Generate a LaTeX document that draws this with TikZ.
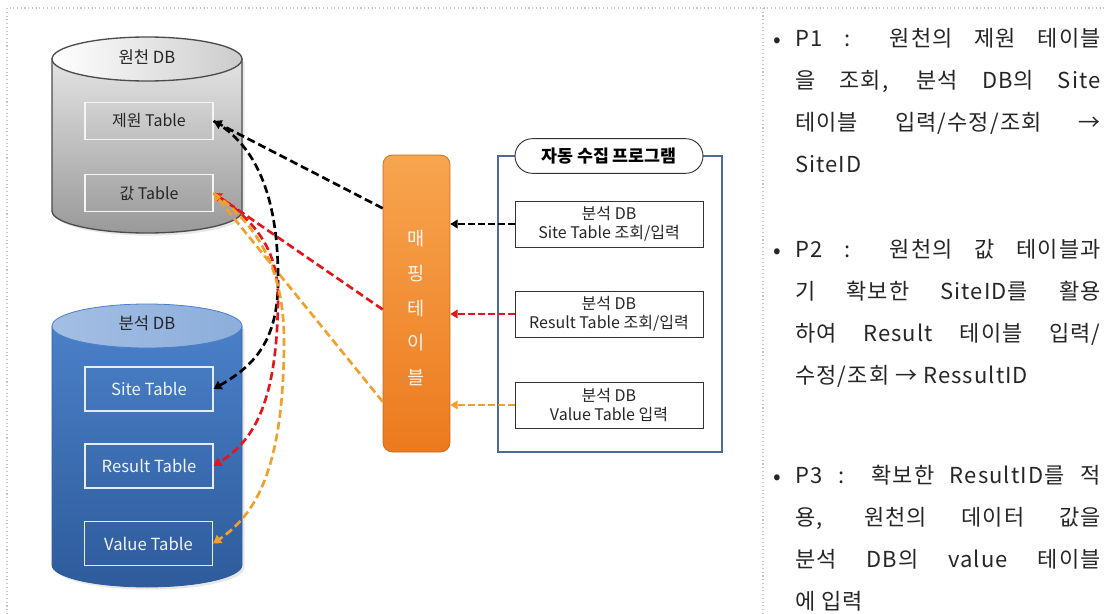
\documentclass[tikz,border=0pt]{standalone}
\usepackage{fontspec}
\setmainfont{Noto Sans CJK KR}
\newfontfamily\notefont{Noto Sans CJK KR}[LetterSpace=5]
\usetikzlibrary{arrows.meta,calc,shadows}
\definecolor{arrred}{HTML}{E3161B}
\definecolor{arrorange}{HTML}{F2A02A}
\definecolor{barlight}{HTML}{F7A54F}
\definecolor{bardark}{HTML}{EC7A1E}
\definecolor{frameblue}{HTML}{4D6B94}
\definecolor{dbtop}{HTML}{4A80C8}
\definecolor{dbbot}{HTML}{2E5B9C}
\definecolor{dblid}{HTML}{93B3DE}
\newcommand{\jline}[1]{\makebox[229pt][s]{#1}}

\begin{document}
\begin{tikzpicture}[x=0.75pt,y=-0.75pt,
  srctbl/.style={draw=white!92!gray,line width=0.8pt,minimum width=96pt,minimum height=27.5pt,
    text=black!85,font=\fontsize{12}{14}\selectfont},
  anatbl/.style={draw=white!85!dbtop,line width=0.8pt,minimum width=96pt,minimum height=33pt,
    text=white!92!dbtop,font=\fontsize{12.5}{14}\selectfont},
  progitem/.style={draw=black!80,line width=0.7pt,fill=white,minimum width=141pt,minimum height=34.5pt,
    align=center,font=\fontsize{12}{14}\selectfont,text=black!85},
  flow/.style={line width=2pt,dash pattern=on 6pt off 3pt,-{Triangle[length=6pt,width=7pt]}},
  feed/.style={line width=1.7pt,dash pattern=on 5pt off 2.5pt,-{Triangle[length=5.5pt,width=6.5pt]}},
  note/.style={anchor=base west,inner sep=0pt,font=\notefont\fontsize{16.5}{20}\selectfont,text=black!85},
  dot/.style={inner sep=0pt,font=\fontsize{17}{18}\selectfont,text=black!85}]
  \useasboundingbox (0,0) rectangle (1104,614);
  \draw[gray!45,dotted,line width=0.8pt] (7,614) -- (7,8) -- (1104,8);
  \draw[gray!45,dotted,line width=0.8pt] (763,8) -- (763,614);

  % source DB
  \shadedraw[draw=black!70,line width=1pt,top color=gray!22,bottom color=gray!80,
    drop shadow={opacity=.18,shadow xshift=2pt,shadow yshift=-2pt}]
    (52,59) -- (52,211) arc[start angle=180,end angle=0,x radius=95,y radius=22] -- (242,59) -- cycle;
  \shadedraw[draw=black!70,line width=1pt,left color=white,right color=gray!40]
    (147,59) ellipse[x radius=95,y radius=22];
  \node[text=black!85,font=\fontsize{12.5}{14}\selectfont] (srclbl) at (147,57) {원천 DB};
  \node[srctbl] (zewon) at (149,121) {제원 Table};
  \node[srctbl] (gap) at (149,193) {값 Table};

  % analysis DB
  \shadedraw[draw=dbbot,line width=0.6pt,top color=dbtop,bottom color=dbbot,
    drop shadow={opacity=.18,shadow xshift=2pt,shadow yshift=-2pt}]
    (52,326) -- (52,565) arc[start angle=180,end angle=0,x radius=95,y radius=22] -- (242,326) -- cycle;
  \shadedraw[draw=dbtop,line width=0.6pt,left color=dblid!85!white,right color=dblid!90!dbtop]
    (147,326) ellipse[x radius=95,y radius=22];
  \node[text=black!85,font=\fontsize{12.5}{14}\selectfont] (analbl) at (147,323) {분석 DB};
  \node[anatbl] (site) at (149,389) {Site Table};
  \node[anatbl] (result) at (149,466) {Result Table};
  \node[anatbl] (value) at (148.5,543.5) {Value Table};

  % mapping table
  \node[draw=bardark!85!black,line width=0.5pt,rounded corners=7pt,top color=barlight,bottom color=bardark,
    minimum width=50.25pt,minimum height=222.75pt] (map) at (416.5,303.5) {};
  \node[align=center,text=white!92!orange,font=\fontsize{14}{26}\selectfont] (maplbl) at (416.5,308)
    {매\\핑\\테\\이\\블};

  % program
  \node[draw=frameblue,line width=1.9pt,minimum width=168pt,minimum height=222pt] (prog) at (610,304) {};
  \node[draw=black!80,line width=0.7pt,fill=white,rounded corners=13pt,minimum width=141pt,
    minimum height=26pt,font=\bfseries\fontsize{13}{15}\selectfont] (progtitle) at (609,156) {자동 수집 프로그램};
  \node[progitem] (pSite) at (609,224) {분석 DB\\Site Table 조회/입력};
  \node[progitem] (pResult) at (609,314) {분석 DB\\Result Table 조회/입력};
  \node[progitem] (pValue) at (609,405) {분석 DB\\Value Table 입력};

  \draw[feed] (pSite.west) -- (map.east |- pSite.west);
  \draw[feed,arrred] (pResult.west) -- (map.east |- pResult.west);
  \draw[feed,arrorange] (pValue.west) -- (map.east |- pValue.west);

  \draw[flow] ($(map.north west)!.18!(map.south west)$) -- (zewon.east);
  \draw[flow,arrred] ($(map.north west)!.52!(map.south west)$) -- (gap.east);
  \draw[flow,arrorange] ($(map.north west)!.83!(map.south west)$) -- (gap.east);

  \draw[flow] (zewon.east) .. controls (265,150) and (279,215) .. (278,285)
    .. controls (277,345) and (250,368) .. (site.east);
  \draw[flow,arrred] (gap.east) .. controls (255,220) and (279,250) .. (278,300)
    .. controls (277,400) and (255,440) .. (result.east);
  \draw[flow,arrorange] (gap.east) .. controls (262,228) and (284,275) .. (284,340)
    .. controls (284,470) and (255,515) .. (value.east);

  % notes
  \node[dot] (b1) at (777,43) {•};
  \node[note] (p1a) at (795,46) {\jline{P1 : 원천의 제원 테이블}};
  \node[note] (p1b) at (795,88) {\jline{을 조회, 분석 DB의 Site}};
  \node[note] (p1c) at (795,130) {\jline{테이블 입력/수정/조회 →}};
  \node[note] (p1d) at (795,172) {SiteID};
  \node[dot] (b2) at (777,254) {•};
  \node[note] (p2a) at (795,257) {\jline{P2 : 원천의 값 테이블과}};
  \node[note] (p2b) at (795,299) {\jline{기 확보한 SiteID를 활용}};
  \node[note] (p2c) at (795,341) {\jline{하여 Result 테이블 입력/}};
  \node[note] (p2d) at (795,383) {수정/조회 → RessultID};
  \node[dot] (b3) at (777,480) {•};
  \node[note] (p3a) at (795,483) {\jline{P3 : 확보한 ResultID를 적}};
  \node[note] (p3b) at (795,525) {\jline{용, 원천의 데이터 값을}};
  \node[note] (p3c) at (795,567) {\jline{분석 DB의 value 테이블}};
  \node[note] (p3d) at (795,609) {에 입력};
\end{tikzpicture}
\end{document}
